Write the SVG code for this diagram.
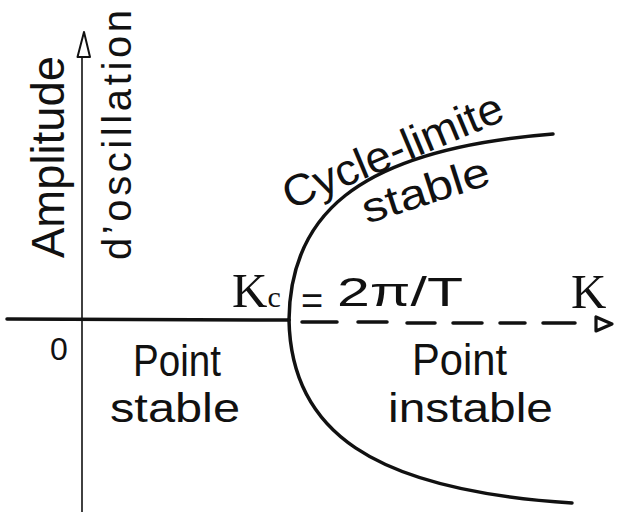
<svg xmlns="http://www.w3.org/2000/svg" width="618" height="515" viewBox="0 0 618 515">
  <style>
    .hand { font-family: "Liberation Sans", "DejaVu Sans", sans-serif; fill: #111; }
    .serif { font-family: "Liberation Serif", "DejaVu Serif", serif; fill: #111; }
    .thick { fill: none; stroke: #111; stroke-width: 3.5; stroke-linecap: round; }
    .thin { fill: none; stroke: #111; stroke-width: 1.6; }
  </style>
  <rect width="618" height="515" fill="#fff"/>

  <g id="axes">
    <line class="thin" x1="82" y1="512" x2="82" y2="56"/>
    <polygon points="84,32 77.5,57 90,57" fill="#fff" stroke="#111" stroke-width="2" stroke-linejoin="round"/>
    <line class="thick" x1="7" y1="319" x2="289" y2="320"/>
    <path class="thick" stroke-width="3" d="M302,322 H337 M358,322 H387 M407,323 H435 M453,323 H482 M500,323 H525 M543,323 H575"/>
    <polygon points="596,317 596,331 612,324" fill="#fff" stroke="#111" stroke-width="3.2" stroke-linejoin="round"/>
  </g>

  <g id="curves">
    <path class="thick" d="M289,320 C290,220 350,150 553,134"/>
    <path class="thick" d="M289,320 C291,430 370,490 572,503"/>
  </g>

  <g id="labels">
    <text class="hand" font-size="46" transform="translate(64,258) rotate(-90)" textLength="202" lengthAdjust="spacingAndGlyphs">Amplitude</text>
    <text class="hand" font-size="40" transform="translate(131,260) rotate(-90)" textLength="250" lengthAdjust="spacing">d’oscillation</text>

    <text class="serif" font-size="49" x="232" y="307">K<tspan font-size="30">c</tspan></text>
    <text class="hand" font-size="38" x="301" y="314">=</text>
    <text class="hand" font-size="40" x="337" y="306" textLength="126" lengthAdjust="spacingAndGlyphs">2π/T</text>
    <text class="serif" font-size="49" x="571" y="308">K</text>

    <text class="hand" font-size="32" x="50" y="360">0</text>

    <text class="hand" font-size="44" x="133" y="376" textLength="88" lengthAdjust="spacingAndGlyphs">Point</text>
    <text class="hand" font-size="40" x="110" y="422" textLength="130" lengthAdjust="spacingAndGlyphs">stable</text>

    <text class="hand" font-size="44" x="412" y="375" textLength="95" lengthAdjust="spacingAndGlyphs">Point</text>
    <text class="hand" font-size="40" x="388" y="422" textLength="165" lengthAdjust="spacingAndGlyphs">instable</text>

    <text class="hand" font-size="44" transform="translate(290,210) rotate(-22.7)" textLength="235" lengthAdjust="spacingAndGlyphs">Cycle-limite</text>
    <text class="hand" font-size="42" transform="translate(367,224) rotate(-17.8)" textLength="132" lengthAdjust="spacingAndGlyphs">stable</text>
  </g>
</svg>
